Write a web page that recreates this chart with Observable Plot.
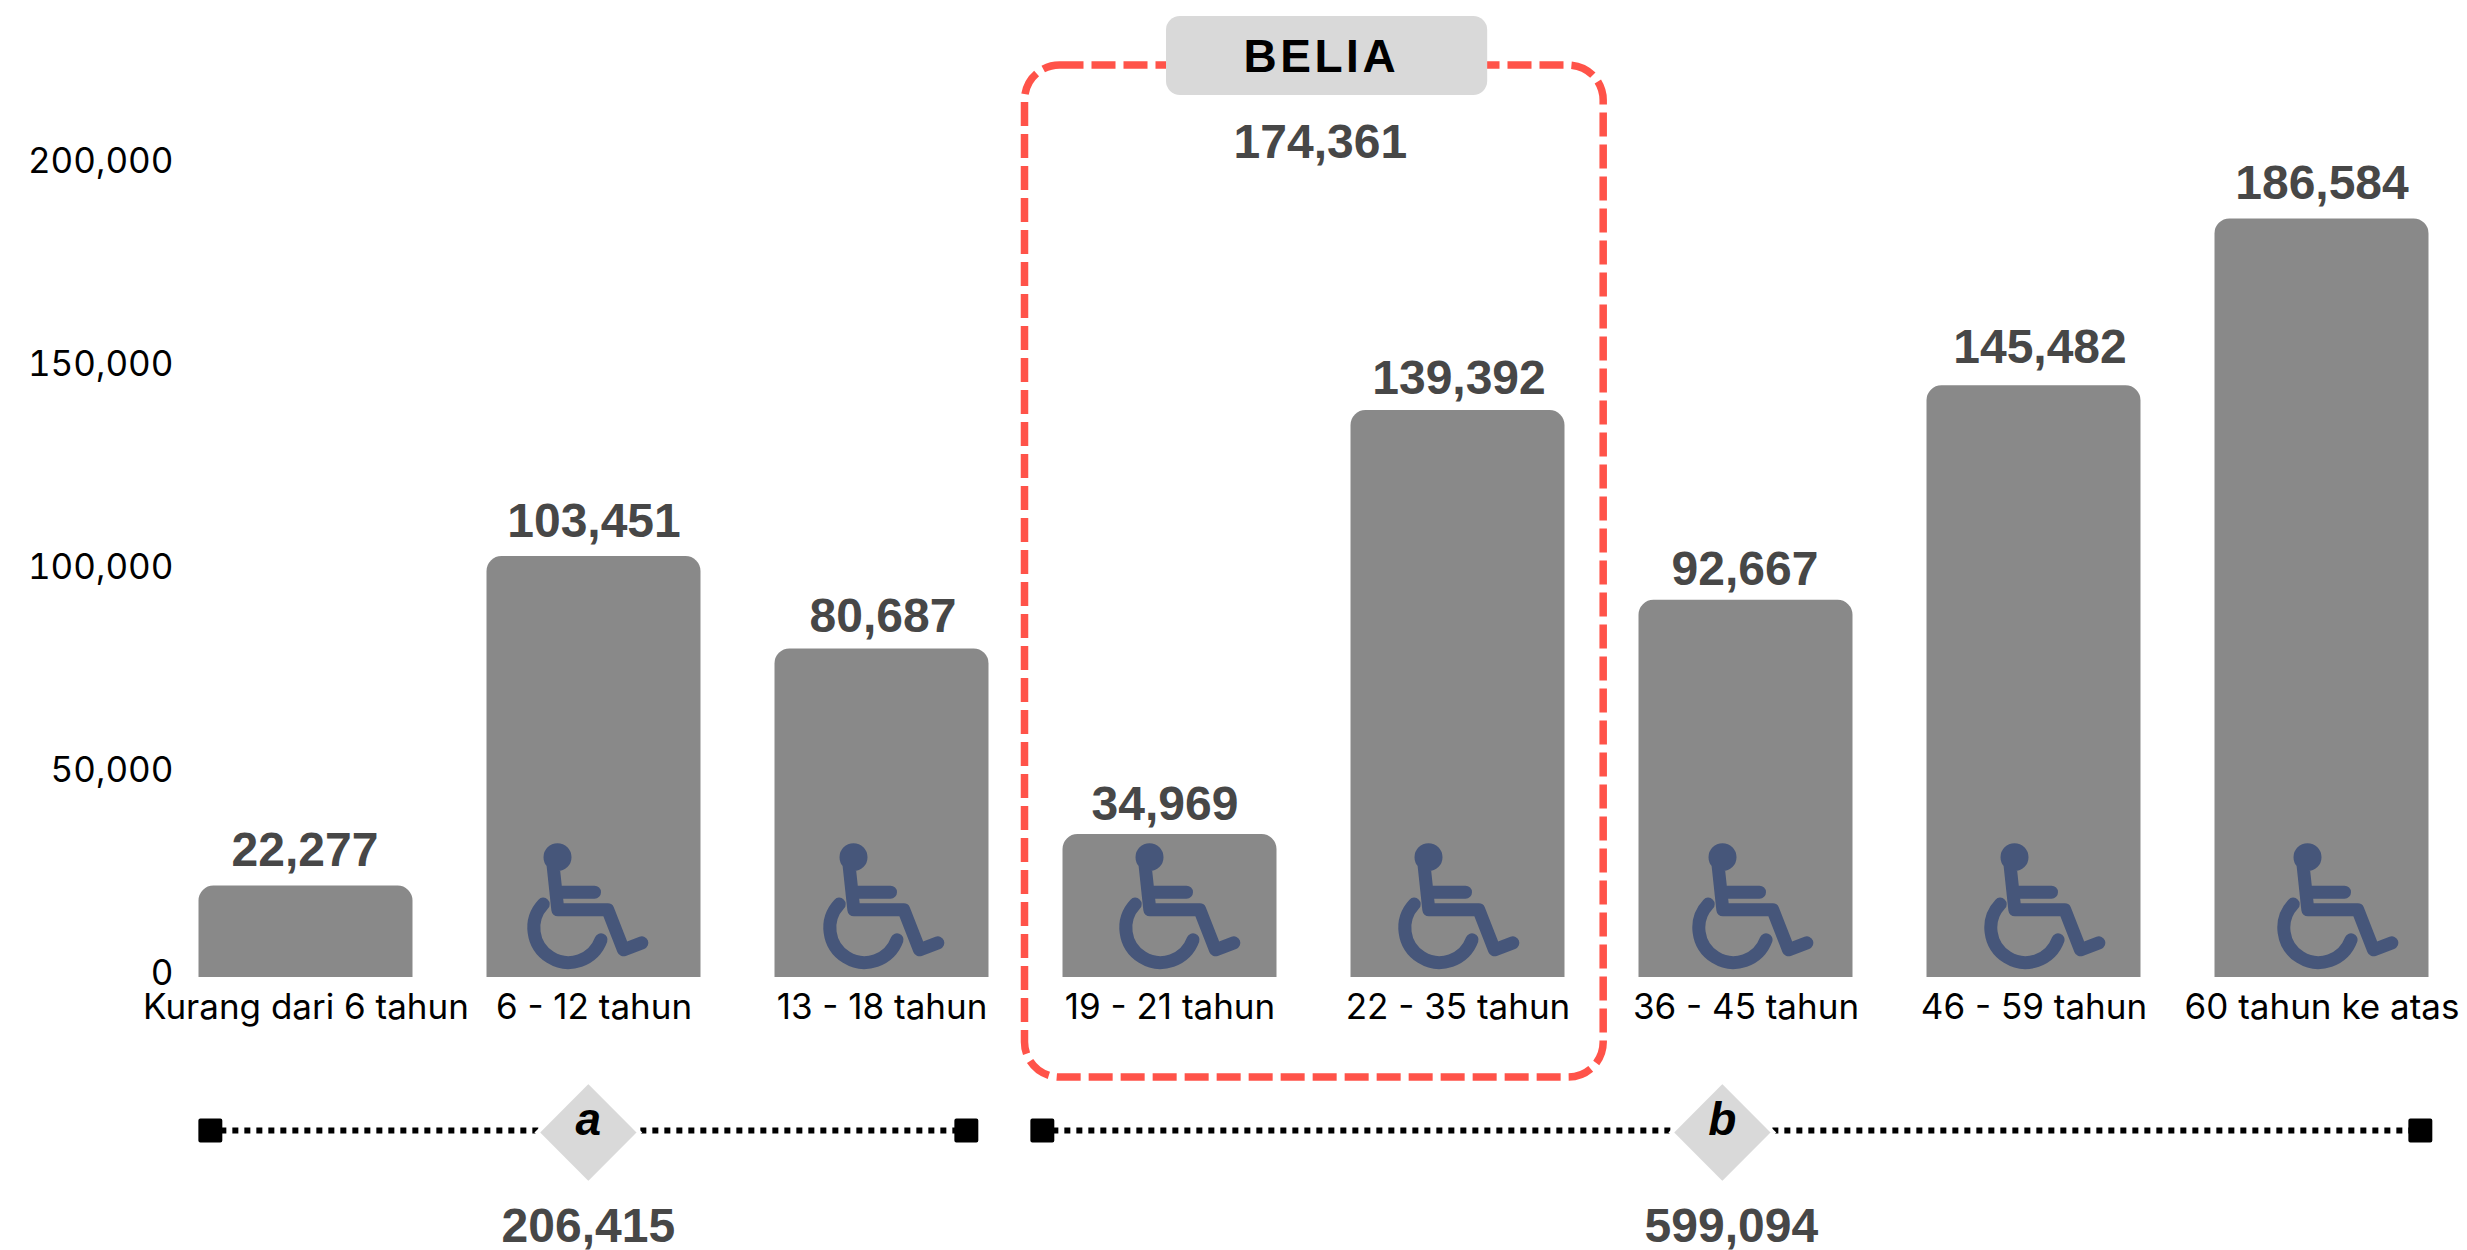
<!DOCTYPE html>
<html>
<head>
<meta charset="utf-8">
<script src="https://cdn.jsdelivr.net/npm/d3@7"></script>
<script src="https://cdn.jsdelivr.net/npm/@observablehq/plot@0.6"></script>
<style>
html,body{margin:0;padding:0;background:#fff}
svg{display:block}
</style>
</head>
<body>
<div id="chart"></div>
<script>
const categories = ["Kurang dari 6 tahun","6 - 12 tahun","13 - 18 tahun","19 - 21 tahun","22 - 35 tahun","36 - 45 tahun","46 - 59 tahun","60 tahun ke atas"];
const values = [22277,103451,80687,34969,139392,92667,145482,186584];
const yTicks = [0,50000,100000,150000,200000];
const iconCategories = categories.slice(1);
const iconDx = [-16,-8,0,-9,-3,1,6];
const labelDx = [-1,0,1,-5,1,-1,6,0];
const labelDy = [-3,-3,0,2,0,1,-6,-3];
const bars = categories.map((c,i)=>({category:c,value:values[i]}));
const fmt = d3.format(",");
const tickFont = "Inter";
const boldFont = "Liberation Sans";
const grey = "#898989", valueInk = "#474747", red = "#ff5349", pale = "#d9d9d9", iconInk = "#46567a";

const xRange = [123.3,2504.3], xPadding = 0.26;
const bandwidth = (xRange[1]-xRange[0])/(categories.length+xPadding)*(1-xPadding);

const brackets = [
  {id:"a",x1:210,x2:966,cx:588,total:"206,415",tx:588},
  {id:"b",x1:1042,x2:2420,cx:1722,total:"599,094",tx:1731}
];
const ends = brackets.flatMap(b=>[b.x1,b.x2].map(x=>({x,y:1130})));
const dotted = brackets.flatMap(b=>[{id:b.id,x:b.x1,y:1130},{id:b.id,x:b.x2,y:1130}]);
// literal pixel channels; the band x scale shifts them, so that shift is taken out
const lit = f => ({value:f,scale:null});
const litC = k => lit(d=>(typeof k==="function"?k(d):d[k])-bandwidth/2);
const litX2 = k => lit(d=>d[k]-bandwidth);

const wheelchair = {
  draw(c){
    const p=(x,y)=>[x/3-69.5,y/3-157];
    const m=(x,y)=>c.moveTo(...p(x,y)), l=(x,y)=>c.lineTo(...p(x,y));
    const [hx,hy]=p(147,110);
    c.moveTo(hx+7.5,hy); c.arc(hx,hy,7.5,0,2*Math.PI);
    c.moveTo(hx+1.5,hy); c.arc(hx,hy,1.5,0,2*Math.PI);
    m(133,128); l(148,268); l(298,268); l(345,388); l(400,367);
    m(155,215); l(258,215);
    const [wx,wy]=p(180,322), r=104/3;
    c.moveTo(wx+r*Math.cos(3.895),wy+r*Math.sin(3.895));
    c.arc(wx,wy,r,3.895,0.352,true);
  }
};

const chart = Plot.plot({
  width:2467,height:1250,
  marginLeft:173,marginBottom:273,marginTop:0,marginRight:0,
  style:{background:"#fff",overflow:"visible"},
  x:{domain:categories,range:xRange,padding:xPadding,align:0.5,axis:null},
  y:{domain:[0,200000],range:[977,165],axis:null},
  marks:[
    Plot.barY(bars,{x:"category",y1:0,y2:"value",fill:grey,ry1:15,insetTop:-1,insetLeft:-0.5,insetRight:-0.5}),
    iconCategories.map((c,i)=>Plot.dot([c],{x:d=>d,y:()=>0,dx:iconDx[i],symbol:wheelchair,stroke:iconInk,fill:"none",strokeWidth:13,strokeLinecap:"round",strokeLinejoin:"round"})),
    bars.map((d,i)=>Plot.text([d],{x:"category",y:"value",text:e=>fmt(e.value),dx:labelDx[i],dy:-33+labelDy[i],fontFamily:boldFont,fontWeight:700,fontSize:48,fill:valueInk})),
    Plot.axisY({ticks:yTicks,tickFormat:fmt,tickSize:0,tickPadding:0,label:null,fontSize:35,fontFamily:tickFont,fill:"#000",dy:-4}),
    Plot.axisX({tickSize:0,tickPadding:17,label:null,fontSize:35,fontFamily:tickFont,fill:"#000"}),
    // BELIA frame
    Plot.rect([{x1:1024.5,x2:1603.5,y1:65,y2:1077}],{x1:lit("x1"),x2:litX2("x2"),y1:lit("y1"),y2:lit("y2"),fill:"none",stroke:red,strokeWidth:7.5,strokeDasharray:"24 8",rx:35}),
    Plot.rect([{x1:1166,x2:1487.5,y1:16,y2:95}],{x1:lit("x1"),x2:litX2("x2"),y1:lit("y1"),y2:lit("y2"),fill:pale,rx:14}),
    Plot.text(["BELIA"],{x:litC(()=>1321),y:lit(()=>57),text:d=>d,fontFamily:boldFont,fontWeight:700,fontSize:46,fill:"#000"}),
    Plot.text(["174,361"],{x:litC(()=>1320),y:lit(()=>142),text:d=>d,fontFamily:boldFont,fontWeight:700,fontSize:48,fill:valueInk}),
    // group brackets
    Plot.line(dotted,{x:litC("x"),y:lit("y"),z:"id",stroke:"#000",strokeWidth:6,strokeLinecap:"butt",strokeDasharray:"6 6",strokeDashoffset:2}),
    Plot.dot(ends,{x:litC("x"),y:lit("y"),symbol:"square2",r:12.7,fill:"#000",stroke:"#000",strokeWidth:4,strokeLinejoin:"round"}),
    Plot.dot(brackets,{x:litC("cx"),y:lit(()=>1132),symbol:"diamond2",r:46,fill:pale,stroke:"#fff",strokeWidth:4}),
    Plot.text(brackets,{x:litC("cx"),y:lit(()=>1120),text:"id",fontFamily:boldFont,fontWeight:700,fontStyle:"italic",fontSize:46,fill:"#000"}),
    Plot.text(brackets,{x:litC("tx"),y:lit(()=>1226),text:"total",fontFamily:boldFont,fontWeight:700,fontSize:48,fill:valueInk})
  ]
});
d3.select(chart).selectAll("text").filter(function(){return this.textContent==="BELIA";}).style("letter-spacing","3.5px");
document.getElementById("chart").append(chart);
</script>
</body>
</html>
